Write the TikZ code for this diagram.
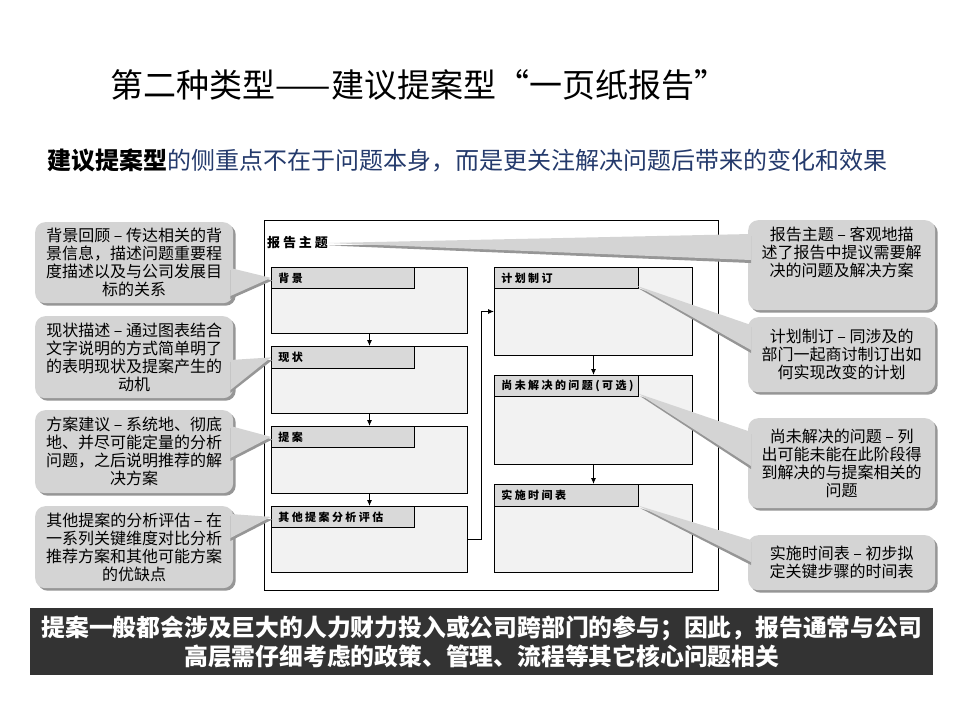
\documentclass[tikz,border=0pt]{standalone}
\usepackage{fontspec}
\setmainfont{Noto Sans CJK SC}
\newfontfamily\cjk{Noto Sans CJK SC}
\newfontfamily\hdrfont{Noto Sans CJK SC}[LetterSpace=22]
\usetikzlibrary{calc,arrows.meta,shadows}
\definecolor{boxfill}{RGB}{242,242,242}
\definecolor{hdrfill}{RGB}{217,217,217}
\definecolor{callfill}{RGB}{212,212,212}
\definecolor{callshadow}{RGB}{150,150,150}
\definecolor{barfill}{RGB}{51,51,51}
\definecolor{subblue}{RGB}{36,58,108}
\begin{document}
\begin{tikzpicture}[x=1pt,y=-1pt,
  box/.style={draw=black,line width=1pt,fill=boxfill,anchor=north west,inner sep=0pt},
  hdrL/.style={draw=black,line width=0.8pt,fill=hdrfill,anchor=north west,inner xsep=7pt,inner ysep=0pt,
     minimum height=21pt,text width=129pt,align=left,font=\hdrfont\bfseries\fontsize{11}{13}\selectfont},
  hdrR/.style={hdrL,text width=130pt},
  arr/.style={line width=0.9pt,-{Latex[length=6pt,width=5pt]}},
  callout/.style={fill=callfill,rounded corners=10pt,inner sep=0pt,minimum width=198pt,align=center,
     font=\cjk\fontsize{16}{18}\selectfont,
     drop shadow={shadow xshift=2.5pt,shadow yshift=-2.5pt,fill=callshadow,opacity=1}},
  calltext/.style={inner sep=0pt,align=center,font=\cjk\fontsize{16}{18}\selectfont},
  wedge/.style={fill=callfill},
  wedgeshadow/.style={fill=callshadow}
]
\useasboundingbox (0,0) rectangle (960,720);
\fill[white] (0,0) rectangle (960,720);

% title and subtitle
\node[font=\cjk\fontsize{33}{38}\selectfont,inner sep=0pt] (title) at (419,85) {第二种类型——建议提案型“一页纸报告”};
\node[anchor=west,inner sep=0pt,font=\cjk\fontsize{24}{28}\selectfont] (sub) at (47,160)
  {\textbf{建议提案型}\textcolor{subblue}{的侧重点不在于问题本身，而是更关注解决问题后带来的变化和效果}};

% main frame
\node[draw=black,line width=1.2pt,fill=white,anchor=north west,inner sep=0pt,minimum width=454pt,minimum height=370pt] (outer) at (264,220) {};
\node[anchor=west,inner sep=0pt,font=\hdrfont\bfseries\fontsize{13}{15}\selectfont] (topic) at (267,243) {报告主题};

% left column
\node[box,minimum width=196pt,minimum height=66pt] (b1) at (271,267) {};
\node[hdrL] (h1) at (b1.north west) {背景};
\node[box,minimum width=196pt,minimum height=67pt] (b2) at (271,346) {};
\node[hdrL,minimum height=22pt] (h2) at (b2.north west) {现状};
\node[box,minimum width=196pt,minimum height=67pt] (b3) at (271,426) {};
\node[hdrL] (h3) at (b3.north west) {提案};
\node[box,minimum width=196pt,minimum height=66pt] (b4) at (271,506) {};
\node[hdrL] (h4) at (b4.north west) {其他提案分析评估};

% right column
\node[box,minimum width=198pt,minimum height=88pt] (b5) at (494,267) {};
\node[hdrR] (h5) at (b5.north west) {计划制订};
\node[box,minimum width=198pt,minimum height=89pt] (b6) at (494,375) {};
\node[hdrR] (h6) at (b6.north west) {尚未解决的问题(可选)};
\node[box,minimum width=198pt,minimum height=88pt] (b7) at (494,484) {};
\node[hdrR,minimum height=22pt] (h7) at (b7.north west) {实施时间表};

% connectors
\draw[arr] (b1.south) -- (b2.north);
\draw[arr] (b2.south) -- (b3.north);
\draw[arr] (b3.south) -- (b4.north);
\draw[arr] (b5.south) -- (b6.north);
\draw[arr] (b6.south) -- (b7.north);
\draw[arr] (b4.east) -- ++(13,0) |- (b5.west);

% left callouts
\node[callout,minimum height=81pt,anchor=north west] (c1) at (35,222)
  {背景回顾 – 传达相关的背\\景信息，描述问题重要程\\度描述以及与公司发展目\\标的关系};
\node[callout,minimum height=82pt,anchor=north west] (c2) at (35,316)
  {现状描述 – 通过图表结合\\文字说明的方式简单明了\\的表明现状及提案产生的\\动机};
\node[callout,minimum height=83pt,anchor=north west] (c3) at (35,410)
  {方案建议 – 系统地、彻底\\地、并尽可能定量的分析\\问题，之后说明推荐的解\\决方案};
\node[callout,minimum height=82pt,anchor=north west] (c4) at (35,506)
  {其他提案的分析评估 – 在\\一系列关键维度对比分析\\推荐方案和其他可能方案\\的优缺点};

% right callouts
\node[callout,minimum width=187pt,minimum height=90pt,anchor=north west] (r1) at (748,220) {};
\node[calltext] (r1t) at ($(r1.north)+(0,32)$) {报告主题 – 客观地描\\述了报告中提议需要解\\决的问题及解决方案};
\node[callout,minimum width=187pt,minimum height=75pt,anchor=north west] (r2) at (748,317)
  {计划制订 – 同涉及的\\部门一起商讨制订出如\\何实现改变的计划};
\node[callout,minimum width=187pt,minimum height=90pt,anchor=north west] (r3) at (748,418)
  {尚未解决的问题 – 列\\出可能未能在此阶段得\\到解决的与提案相关的\\问题};
\node[callout,minimum width=187pt,minimum height=55pt,anchor=north west] (r4) at (748,535)
  {实施时间表 – 初步拟\\定关键步骤的时间表};

% wedges (shadow then fill)
\foreach \c/\t/\ya/\yb in {c1/h1.west/46/74, c2/h2.west/44/74, c3/h3.west/16/48, c4/h4.west/8/32}{
  \fill[wedgeshadow] ($(\c.north east)+(-3,\ya+2)$) -- ($(\t)+(1.5,2.5)$) -- ($(\c.north east)+(-3,\yb+3)$) -- cycle;
  \fill[wedge] ($(\c.north east)+(-3,\ya)$) -- (\t) -- ($(\c.north east)+(-3,\yb)$) -- cycle;
}
\coordinate (t1) at (topic.east);
\coordinate (t2) at ($(h5.south east)+(-2,-3)$);
\coordinate (t3) at ($(h6.south east)+(0,-3)$);
\coordinate (t4) at ($(h7.south east)+(0,-1)$);
\foreach \c/\t/\ya/\yb in {r1/t1/14/40, r2/t2/8/33, r3/t3/14/48, r4/t4/5/27}{
  \fill[wedgeshadow] ($(\c.north west)+(3,\ya+2)$) -- ($(\t)+(1.5,2.5)$) -- ($(\c.north west)+(3,\yb+3)$) -- cycle;
  \fill[wedge] ($(\c.north west)+(3,\ya)$) -- (\t) -- ($(\c.north west)+(3,\yb)$) -- cycle;
}

% bottom bar
\node[fill=barfill,anchor=north west,inner sep=0pt,minimum width=903pt,minimum height=67pt,
  text=white,align=center,font=\cjk\bfseries\fontsize{23.8}{29}\selectfont] (bar) at (30,608)
  {提案一般都会涉及巨大的人力财力投入或公司跨部门的参与；因此，报告通常与公司\\高层需仔细考虑的政策、管理、流程等其它核心问题相关};
\end{tikzpicture}
\end{document}
